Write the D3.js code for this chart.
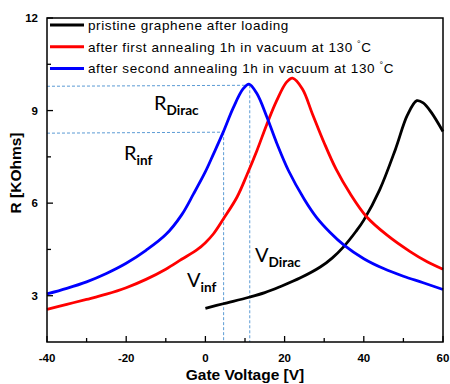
<!DOCTYPE html>
<html>
<head>
<meta charset="utf-8">
<script src="https://cdn.jsdelivr.net/npm/d3@7"></script>
<style>
  body { margin: 0; background: #fff; }
  text { font-family: "Liberation Sans", Arial, sans-serif; }
  .tick-label { font-size: 11.5px; font-weight: bold; }
  .axis-title { font-size: 15.5px; font-weight: bold; }
  .legend { font-size: 13.5px; letter-spacing: 0.6px; }
  .note { font-family: Lato, "Liberation Sans", sans-serif; }
</style>
</head>
<body>
<svg id="chart" width="450" height="384"></svg>
<script>
// --- data ---
const blueV = [-40, -35, -30, -25, -20, -15, -10, -6, -3, 0, 2, 4.5, 7, 9.5, 11, 13, 15.5, 18, 21, 25, 28, 31.5, 35, 40, 45, 50, 55, 60];
const blueR = [3.06, 3.24, 3.45, 3.72, 4.05, 4.47, 4.98, 5.62, 6.3, 7.02, 7.58, 8.3, 9.08, 9.7, 9.86, 9.55, 8.8, 7.95, 7.05, 6.12, 5.55, 5.05, 4.64, 4.2, 3.88, 3.63, 3.42, 3.2];

const redV = [-40, -35, -30, -25, -20, -15, -10, -6, -2, 0, 2, 4.5, 8, 10.5, 13, 15.5, 18, 20.5, 22, 24.5, 27, 30, 33, 36.5, 40.7, 45.8, 51.7, 56, 60];
const redR = [2.56, 2.72, 2.88, 3.05, 3.26, 3.53, 3.86, 4.18, 4.5, 4.72, 5.0, 5.48, 6.2, 6.92, 7.7, 8.55, 9.32, 9.92, 10.05, 9.7, 8.9, 7.95, 7.1, 6.32, 5.56, 4.97, 4.43, 4.1, 3.86];

const blackV = [0, 4.5, 11, 15, 19, 24, 29, 32, 35, 38, 40, 44, 48, 51, 53.4, 55, 57, 60];
const blackR = [2.59, 2.74, 2.95, 3.1, 3.3, 3.58, 3.93, 4.22, 4.6, 5.08, 5.45, 6.43, 7.75, 8.85, 9.32, 9.25, 8.95, 8.32];

const seriesNames = ["pristine graphene after loading", "after first annealing 1h in vacuum at 130 ", "after second annealing 1h in vacuum at 130 "];
const seriesColors = ["#000000", "#ff0000", "#0000ff"];

const xTicks = [-40, -20, 0, 20, 40, 60];
const xMinor = [-30, -10, 10, 30, 50];
const yTicks = [3, 6, 9, 12];
const yMinor = [4.5, 7.5, 10.5];

// marked points (Dirac peak and inflection) of the blue curve
const vDirac = 11.2, rDirac = 9.82;
const vInf = 4.6, rInf = 8.3;

// --- layout ---
const svg = d3.select("#chart");
const margin = { top: 18, right: 7, bottom: 42, left: 47 };
const width = 450, height = 384;

const x = d3.scaleLinear().domain([-40, 60]).range([margin.left, width - margin.right]);
const y = d3.scaleLinear().domain([1.5, 12]).range([height - margin.bottom, margin.top]);

const x0 = x.range()[0], x1 = x.range()[1];
const yB = y.range()[0], yT = y.range()[1];

// --- dashed guide lines ---
const guide = svg.append("g")
  .attr("stroke", "#5b9bd5")
  .attr("stroke-width", 1)
  .attr("stroke-dasharray", "3,2");
guide.append("line").attr("x1", x0).attr("x2", x(vDirac)).attr("y1", y(rDirac) + 1).attr("y2", y(rDirac));
guide.append("line").attr("x1", x0).attr("x2", x(vInf)).attr("y1", y(rInf) + 1).attr("y2", y(rInf));
guide.append("line").attr("x1", x(vDirac)).attr("x2", x(vDirac)).attr("y1", y(rDirac)).attr("y2", yB);
guide.append("line").attr("x1", x(vInf)).attr("x2", x(vInf)).attr("y1", y(rInf)).attr("y2", yB);

// --- curves ---
const line = d3.line()
  .x(d => x(d[0]))
  .y(d => y(d[1]))
  .curve(d3.curveCatmullRom.alpha(0.5));

const series = [
  { v: blackV, r: blackR, color: seriesColors[0] },
  { v: redV, r: redR, color: seriesColors[1] },
  { v: blueV, r: blueR, color: seriesColors[2] }
];

series.forEach(s => {
  svg.append("path")
    .datum(d3.zip(s.v, s.r))
    .attr("fill", "none")
    .attr("stroke", s.color)
    .attr("stroke-width", 2.8)
    .attr("stroke-linejoin", "round")
    .attr("d", line);
});

// --- frame and ticks (inside) ---
svg.append("rect")
  .attr("x", x0).attr("y", yT)
  .attr("width", x1 - x0).attr("height", yB - yT)
  .attr("fill", "none").attr("stroke", "#000").attr("stroke-width", 1.5);

const ticks = svg.append("g").attr("stroke", "#000").attr("stroke-width", 1.3);
xTicks.forEach(t => ticks.append("line").attr("x1", x(t)).attr("x2", x(t)).attr("y1", yB).attr("y2", yB - 6));
xMinor.forEach(t => ticks.append("line").attr("x1", x(t)).attr("x2", x(t)).attr("y1", yB).attr("y2", yB - 4));
yTicks.forEach(t => ticks.append("line").attr("x1", x0).attr("x2", x0 + 6).attr("y1", y(t)).attr("y2", y(t)));
yMinor.forEach(t => ticks.append("line").attr("x1", x0).attr("x2", x0 + 4).attr("y1", y(t)).attr("y2", y(t)));

svg.selectAll("text.xlab")
  .data(xTicks).enter().append("text")
  .attr("class", "tick-label")
  .attr("x", d => x(d)).attr("y", yB + 20)
  .attr("text-anchor", "middle")
  .text(d => d);

svg.selectAll("text.ylab")
  .data(yTicks).enter().append("text")
  .attr("class", "tick-label")
  .attr("x", x0 - 9).attr("y", d => y(d) + 4)
  .attr("text-anchor", "end")
  .text(d => d);

// axis titles
svg.append("text")
  .attr("class", "axis-title")
  .attr("x", 245).attr("y", 380)
  .attr("text-anchor", "middle")
  .text("Gate Voltage [V]");

svg.append("text")
  .attr("class", "axis-title")
  .attr("transform", "translate(21,173) rotate(-90)")
  .attr("text-anchor", "middle")
  .text("R [KOhms]");

// --- legend ---
const legend = svg.append("g");
seriesNames.forEach((name, i) => {
  const ly = 25 + i * 21.7;
  legend.append("line")
    .attr("x1", 50).attr("x2", 84)
    .attr("y1", ly).attr("y2", ly)
    .attr("stroke", seriesColors[i]).attr("stroke-width", 3);
  const t = legend.append("text")
    .attr("class", "legend")
    .attr("x", 88).attr("y", ly + 5)
    .text(name);
  if (i > 0) {
    t.append("tspan").attr("font-size", "9px").attr("dy", -5).text("°");
    t.append("tspan").attr("dy", 5).text("C");
  }
});

// --- annotations ---
function label(px, py, main, sub, size) {
  const t = svg.append("text").attr("class", "note").attr("x", px).attr("y", py)
    .attr("font-size", size + "px");
  t.append("tspan").text(main);
  t.append("tspan").attr("font-size", (size * 0.68) + "px").attr("font-weight", "bold").attr("dy", 5).text(sub);
}
label(154, 110, "R", "Dirac", 20);
label(124, 160, "R", "inf", 20);
label(187, 287, "V", "inf", 20);
label(255, 262, "V", "Dirac", 20);
</script>
</body>
</html>
